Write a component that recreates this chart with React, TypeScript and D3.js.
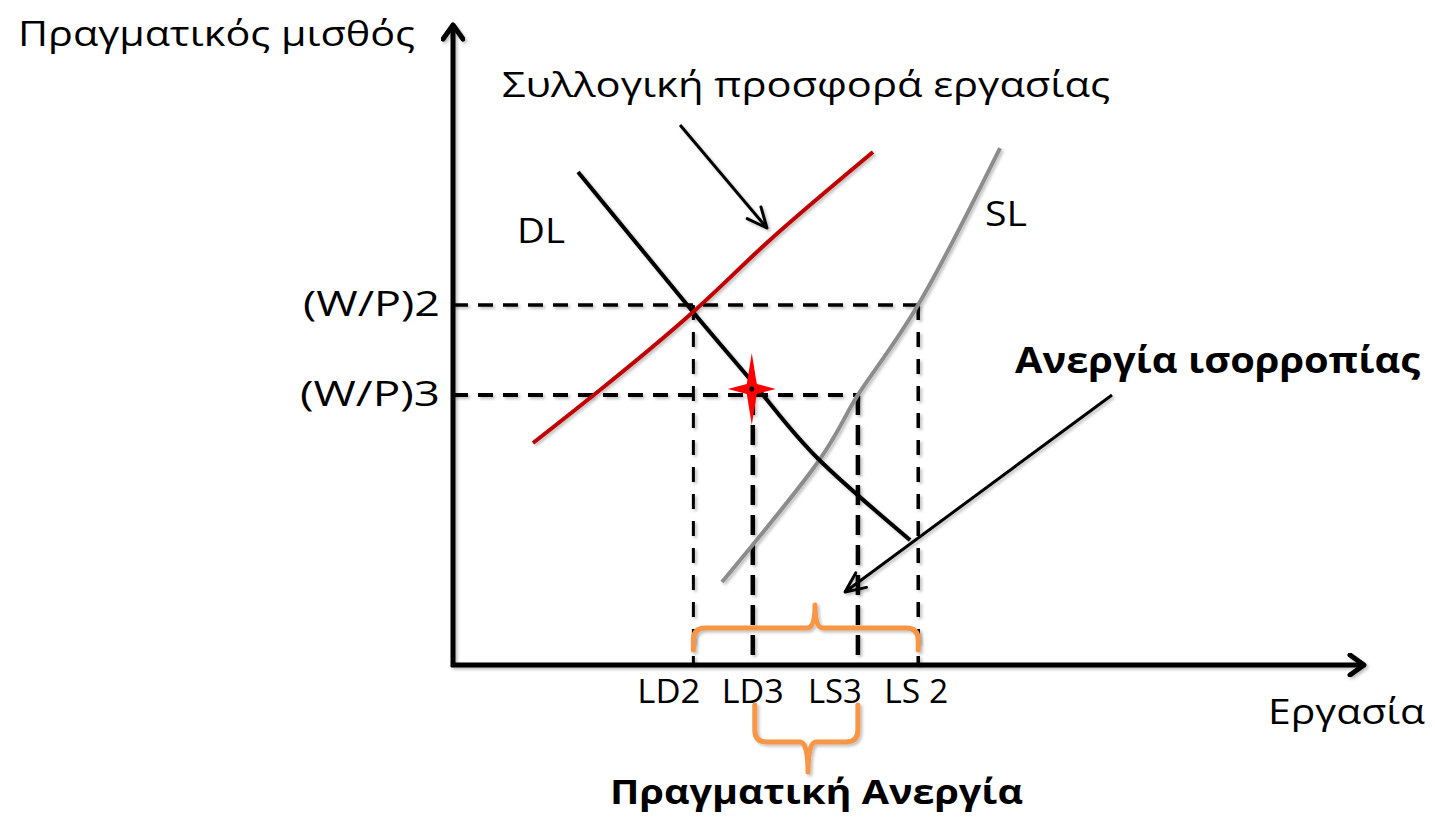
import React from 'react';
import * as d3 from 'd3';

// labour (x) and real wage (y) in abstract units 0..100
const labourTicks = ['LD2', 'LD3', 'LS3', 'LS 2'];
const labourValues = [26.3, 32.8, 44.3, 50.9];
const wageTicks = ['(W/P)2', '(W/P)3'];
const wageValues = [56.0, 42.0];

const demandDL: [number, number][] = [
  [13.68, 76.67], [26.26, 54.9], [33.92, 42.0], [40.0, 32.0], [50.0, 19.44]
];
const supplySL: [number, number][] = [
  [29.43, 12.91], [39.93, 31.57], [44.3, 42.0], [50.88, 55.99], [59.85, 80.4]
];
const unionSupply: [number, number][] = [
  [8.75, 34.53], [16.08, 42.77], [26.26, 54.9], [34.68, 66.1], [45.95, 79.78]
];

const W = 1435;
const H = 825;
const FONT = '"Open Sans", "Noto Sans", sans-serif';

const x = d3.scaleLinear().domain([0, 100]).range([453, 1367]);
const y = d3.scaleLinear().domain([0, 100]).range([665, 22]);

const line = d3
  .line<[number, number]>()
  .x((d) => x(d[0]))
  .y((d) => y(d[1]))
  .curve(d3.curveNatural);

// horizontal curly brace
function brace(x0: number, x1: number, yEnd: number, yMid: number, yTip: number, xTip: number) {
  const dir = Math.sign(yMid - yEnd);
  const r = Math.min(12, Math.abs(yMid - yEnd));
  const r2 = 8;
  return [
    `M${x0},${yEnd}`,
    `L${x0},${yMid - dir * r}`,
    `Q${x0},${yMid} ${x0 + r},${yMid}`,
    `L${xTip - r2},${yMid}`,
    `Q${xTip},${yMid} ${xTip},${yTip}`,
    `Q${xTip},${yMid} ${xTip + r2},${yMid}`,
    `L${x1 - r},${yMid}`,
    `Q${x1},${yMid} ${x1},${yMid - dir * r}`,
    `L${x1},${yEnd}`
  ].join(' ');
}

function star(cx: number, cy: number) {
  const up = 36, down = 36, side = 24, w = 5;
  return `M${cx},${cy - up} L${cx + w},${cy - w} L${cx + side},${cy} L${cx + w},${cy + w} L${cx},${cy + down} L${cx - w},${cy + w} L${cx - side},${cy} L${cx - w},${cy - w} Z`;
}

const Txt = (p: { x: number; y: number; len: number; size: number; bold?: boolean; anchor?: string; children: string }) => (
  <text
    x={p.x}
    y={p.y}
    fontFamily={FONT}
    fontSize={p.size}
    fontWeight={p.bold ? 700 : 400}
    textAnchor={p.anchor || 'start'}
    textLength={p.len}
    lengthAdjust="spacingAndGlyphs"
    fill="#000"
  >
    {p.children}
  </text>
);

const App = () => {
  const x0 = x(0);
  const y0 = y(0);
  const [ld2, ld3, ls3, ls2] = labourValues.map((v) => x(v));
  const [w2, w3] = wageValues.map((v) => y(v));

  const a1 = [[24.84, 83.98], [34.35, 67.96]];
  const a2 = [[72.1, 42.0], [42.89, 11.35]];

  const tickShift = [-24.5, 0, -23, -2];
  const tickLens = [63, 62, 54, 64];

  return (
    <svg
      width={W}
      height={H}
      style={{ position: 'absolute', left: 0, top: 0, background: '#fff' }}
    >
      <defs>
        <filter id="sh" x="-10%" y="-10%" width="120%" height="120%">
          <feDropShadow dx="2" dy="2" stdDeviation="1.5" floodColor="#000" floodOpacity="0.25" />
        </filter>
        <marker id="axArrow" viewBox="-20 -12 24 24" refX="0" refY="0" markerWidth="24" markerHeight="24" markerUnits="userSpaceOnUse" orient="auto">
          <path d="M-14,-10 L0,0 L-14,10" fill="none" stroke="#000" strokeWidth="5" strokeLinecap="round" strokeLinejoin="round" />
        </marker>
        <marker id="annArrow" viewBox="-24 -14 28 28" refX="0" refY="0" markerWidth="28" markerHeight="28" markerUnits="userSpaceOnUse" orient="auto">
          <path d="M-20,-9 L0,0 L-20,9" fill="none" stroke="#000" strokeWidth="3" strokeLinecap="round" strokeLinejoin="round" />
        </marker>
      </defs>

      {/* dashed guide lines */}
      <g stroke="#000" fill="none" filter="url(#sh)">
        <line x1={x0} y1={w2} x2={ls2} y2={w2} strokeWidth={3.5} strokeDasharray="15 10" />
        <line x1={x0} y1={w3} x2={ls3} y2={w3} strokeWidth={4} strokeDasharray="15 10" />
        <line x1={ld2} y1={w2} x2={ld2} y2={y0} strokeWidth={3} strokeDasharray="15 12" />
        <line x1={ls2} y1={w2} x2={ls2} y2={y0} strokeWidth={3.5} strokeDasharray="15 12" />
        <line x1={ld3} y1={w3} x2={ld3} y2={y0} strokeWidth={4.5} strokeDasharray="20 10" />
        <line x1={ls3} y1={w3} x2={ls3} y2={y0} strokeWidth={4.5} strokeDasharray="20 10" />
      </g>

      {/* curves */}
      <g fill="none" strokeWidth={4} strokeLinecap="butt" filter="url(#sh)">
        <path d={line(supplySL) || ''} stroke="#8c8c8c" />
        <path d={line(demandDL) || ''} stroke="#000" />
        <path d={line(unionSupply) || ''} stroke="#c00000" />
      </g>

      {/* axes */}
      <g stroke="#000" strokeWidth={5} fill="none" filter="url(#sh)">
        <line x1={x0} y1={y0 + 2} x2={x0} y2={y(100) + 3} markerEnd="url(#axArrow)" />
        <line x1={x0 - 2} y1={y0} x2={x(100) - 3} y2={y0} markerEnd="url(#axArrow)" />
      </g>

      {/* annotation arrows */}
      <g stroke="#000" strokeWidth={3} fill="none" filter="url(#sh)">
        <line x1={x(a1[0][0])} y1={y(a1[0][1])} x2={x(a1[1][0])} y2={y(a1[1][1])} markerEnd="url(#annArrow)" />
        <line x1={x(a2[0][0])} y1={y(a2[0][1])} x2={x(a2[1][0])} y2={y(a2[1][1])} markerEnd="url(#annArrow)" />
      </g>

      {/* braces */}
      <g stroke="#f79646" strokeWidth={5} fill="none" strokeLinecap="round" strokeLinejoin="round" filter="url(#sh)">
        <path d={brace(ld2, ls2, y0 - 15, y0 - 37, y0 - 60, 815)} />
        <path d={brace(ld3 + 2, ls3, y0 + 40, y0 + 77, y0 + 107, 808)} />
      </g>

      {/* star */}
      <path d={star(ld3 - 1, w3 - 6)} fill="#ff0000" />
      <circle cx={ld3 - 1} cy={w3 - 6} r={2.5} fill="#000" />

      {/* tick labels */}
      {labourTicks.map((t, i) => (
        <Txt key={t} x={x(labourValues[i]) + tickShift[i]} y={703} len={tickLens[i]} size={33} anchor="middle">
          {t}
        </Txt>
      ))}
      {wageTicks.map((t, i) => (
        <Txt key={t} x={440} y={y(wageValues[i]) + 11} len={i === 0 ? 137 : 140} size={35} anchor="end">
          {t}
        </Txt>
      ))}

      {/* labels */}
      <Txt x={18} y={46} len={397} size={35}>Πραγματικός μισθός</Txt>
      <Txt x={502} y={97} len={608} size={35}>Συλλογική προσφορά εργασίας</Txt>
      <Txt x={517} y={243} len={48} size={35}>DL</Txt>
      <Txt x={985} y={226} len={42} size={35}>SL</Txt>
      <Txt x={1268} y={724} len={157} size={35}>Εργασία</Txt>
      <Txt x={1015} y={373} len={405} size={36} bold>Ανεργία ισορροπίας</Txt>
      <Txt x={610} y={804} len={413} size={34} bold>Πραγματική Ανεργία</Txt>
    </svg>
  );
};

export default App;
